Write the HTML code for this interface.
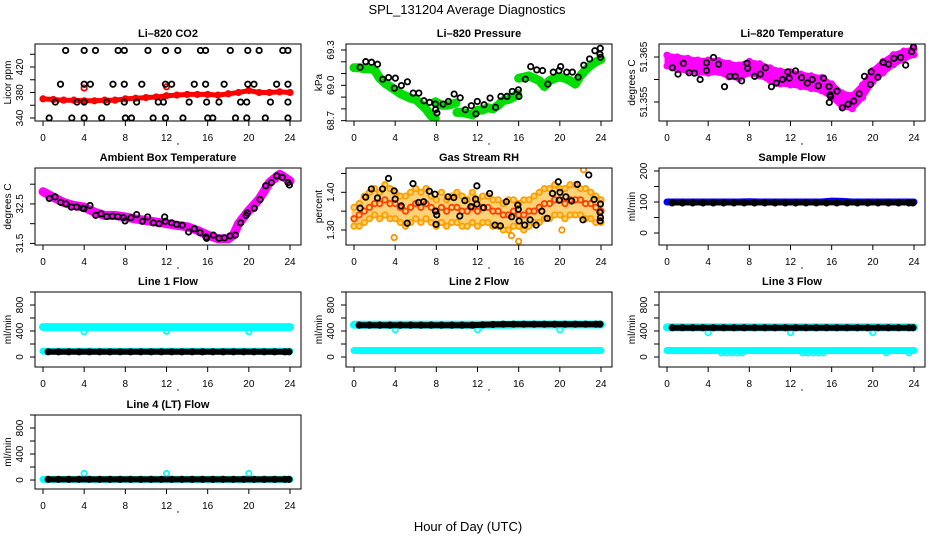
<!DOCTYPE html>
<html><head><meta charset="utf-8">
<style>
html,body{margin:0;padding:0;background:#fff;}
svg{display:block;font-family:"Liberation Sans",Arial,sans-serif;}
</style></head>
<body>
<svg id="chart" width="936" height="540" viewBox="0 0 936 540" xmlns="http://www.w3.org/2000/svg">
<rect x="0" y="0" width="936" height="540" fill="#fff"/>
<text x="467" y="14" text-anchor="middle" font-size="13">SPL_131204  Average Diagnostics</text>
<text x="468" y="531" text-anchor="middle" font-size="13">Hour of Day (UTC)</text>
</svg>
<script>
// ---------- data ----------
const xTicks = [0,4,8,12,16,20,24];
const hourly = [0,1,2,3,4,5,6,7,8,9,10,11,12,13,14,15,16,17,18,19,20,21,22,23,24];
const halfHours = [0.5,1.5,2.5,3.5,4.5,5.5,6.5,7.5,8.5,9.5,10.5,11.5,12.5,13.5,14.5,15.5,16.5,17.5,18.5,19.5,20.5,21.5,22.5,23.5,23.9];

// CO2
const co2Red = [370,369,368,368,367,367,368,368,370,371,372,373,375,376,377,377,377,376,378,380,383,380,380,381,380];
const co2RedOutHours = [4,12];
const co2RedOutValues = [387,389];
const co2TopHours = [2.2,4.0,5.1,7.3,7.9,10.2,11.9,13.1,15.3,15.8,18.2,19.9,21.0,23.3,23.8];
const co2TopValue = 446;
const co2HighHours = [1.7,4.0,4.6,6.8,7.9,9.6,11.9,12.5,14.7,15.8,17.6,19.9,20.5,22.7,23.8];
const co2HighValue = 393;
const co2MidHours = [1.2,3.3,4.0,6.2,7.9,9.1,11.2,11.7,14.2,15.9,17.1,19.2,19.8,22.1,23.8];
const co2MidValue = 365;
const co2LowHours = [0.6,2.8,4.0,5.7,8.0,8.6,10.7,11.9,13.6,16.0,16.5,18.7,19.8,21.6,23.8];
const co2LowValue = 340;

// Pressure
const presBandHours = [0,0.5,1,1.5,2,2.5,3,3.5,4,4.5,5,5.5,6,6.5,7,7.5,7.9,null,7.9,8.5,9,9.5,9.9,null,10,10.5,11,11.5,12,12.5,13,13.5,14,14.5,15,15.5,15.9,null,16,16.5,17,17.5,18,18.5,19,19.5,20,20.5,21,21.5,22,22.5,23,23.5,24];
const presBandValues = [69.15,69.15,69.14,69.14,69.13,69.06,69.02,68.99,68.96,68.93,68.91,68.89,68.88,68.84,68.80,68.74,68.72,null,68.86,68.83,68.83,68.84,68.85,null,68.77,68.77,68.76,68.75,68.79,68.79,68.81,68.80,68.83,68.87,68.88,68.90,68.93,null,69.06,69.07,69.08,69.06,69.04,68.99,69.04,69.06,69.07,69.06,69.04,69.01,69.08,69.13,69.17,69.20,69.22];
const presPtHours = [0.59,1.14,1.70,2.29,2.78,3.36,3.92,4.02,4.60,5.19,5.75,6.30,6.79,7.35,7.90,7.93,8.06,8.65,9.18,9.73,10.32,10.81,11.40,11.85,11.98,12.64,13.22,13.75,14.27,14.86,15.38,15.97,16.03,16.65,17.17,17.76,18.32,18.84,19.36,19.92,20.08,20.67,21.22,21.78,22.33,22.89,23.41,23.93,23.9,23.95];
const presPtValues = [69.154,69.201,69.196,69.179,69.052,69.066,68.976,69.061,68.998,69.030,68.934,68.934,68.869,68.855,68.841,68.793,68.765,68.841,68.863,68.926,68.894,68.793,68.827,68.757,68.863,68.835,68.892,68.813,68.906,68.906,68.948,68.962,68.906,69.052,69.159,69.131,69.125,69.010,69.112,69.125,69.159,69.112,69.112,69.069,69.171,69.224,69.294,69.314,69.264,69.238];

// Li-820 temperature
const tempHi = [51.3654,51.3650,51.3647,51.3643,51.3643,51.3642,51.3636,51.3632,51.3640,51.3635,51.3626,51.3619,51.3617,51.3612,51.3608,51.3604,51.3590,51.3570,51.3565,51.3588,51.3620,51.3640,51.3655,51.3663,51.3668];
const tempLo = [51.3630,51.3622,51.3619,51.3615,51.3614,51.3616,51.3606,51.3602,51.3614,51.3608,51.3598,51.3590,51.3588,51.3584,51.3580,51.3575,51.3560,51.3540,51.3535,51.3560,51.3595,51.3615,51.3633,51.3645,51.3655];
const tempPtHours = [0.52,1.07,1.59,2.15,2.67,3.22,3.84,3.84,4.52,5.01,5.59,6.11,6.63,7.25,7.77,7.84,8.52,9.07,9.56,10.15,10.63,11.22,11.74,11.87,12.49,13.07,13.63,14.11,14.70,15.22,15.74,15.84,15.9,15.77,16.52,17.04,17.59,18.15,18.67,19.19,19.77,19.84,20.49,21.00,21.53,22.05,22.70,23.19,23.77,23.95];
const tempPtValues = [51.3626,51.3612,51.3636,51.3615,51.3614,51.3600,51.3637,51.3620,51.3649,51.3634,51.3584,51.3607,51.3607,51.3597,51.3636,51.3625,51.3607,51.3612,51.3626,51.3584,51.3592,51.3600,51.3617,51.3603,51.3619,51.3604,51.3592,51.3600,51.3586,51.3603,51.3584,51.3566,51.3562,51.3549,51.3574,51.3537,51.3545,51.3552,51.3568,51.3607,51.3589,51.3617,51.3605,51.3638,51.3634,51.3647,51.3649,51.3632,51.3662,51.3672];

// Ambient box temperature
const ambHours = [0,1,2,3,4,5,6,7,8,9,10,11,12,13,14,15,16,17,18,18.5,19,19.5,20,21,22,23,24];
const ambBand = [32.81,32.67,32.54,32.46,32.42,32.29,32.21,32.21,32.17,32.12,32.08,32.04,32.00,31.96,31.92,31.83,31.71,31.62,31.62,31.71,32.00,32.17,32.33,32.62,33.04,33.25,33.08];
const ambPtHours = [0.61,1.17,1.72,2.23,2.75,3.27,3.86,3.98,4.57,5.12,5.64,6.19,6.74,7.26,7.81,7.97,8.55,9.10,9.65,10.17,10.72,11.27,11.82,11.89,12.50,12.99,13.54,14.15,14.70,15.26,15.90,15.84,16.55,17.10,17.62,18.17,18.69,19.21,19.73,19.85,20.53,21.09,21.64,22.19,22.71,23.25,23.81,23.94];
const ambPtValues = [32.64,32.68,32.54,32.50,32.42,32.42,32.39,32.38,32.46,32.21,32.25,32.18,32.19,32.18,32.15,32.07,32.15,32.23,32.06,32.17,32.02,32.00,32.17,32.06,32.02,31.98,31.96,31.79,31.87,31.77,31.63,31.66,31.71,31.63,31.64,31.69,31.71,32.02,32.21,32.27,32.39,32.61,32.96,33.04,33.21,33.17,33.04,32.98];

// Gas stream RH
const rhHours = [0,0.5,1,1.5,2,2.5,3,3.5,4,4.5,5,5.5,6,6.5,7,7.5,8,8.5,9,9.5,10,10.5,11,11.5,12,12.5,13,13.5,14,14.5,15,15.5,16,16.5,17,17.5,18,18.5,19,19.5,20,20.5,21,21.5,22,22.5,23,23.5,24];
const rhMid = [1.33,1.34,1.35,1.36,1.37,1.37,1.38,1.37,1.37,1.36,1.35,1.36,1.37,1.36,1.37,1.36,1.35,1.36,1.35,1.36,1.36,1.35,1.35,1.36,1.35,1.36,1.36,1.35,1.35,1.34,1.34,1.35,1.34,1.34,1.35,1.35,1.36,1.37,1.37,1.38,1.38,1.37,1.38,1.38,1.38,1.37,1.37,1.36,1.35];
const rhHigh = [1.36,1.37,1.39,1.40,1.41,1.40,1.42,1.41,1.40,1.39,1.39,1.40,1.41,1.40,1.41,1.39,1.38,1.40,1.38,1.39,1.40,1.39,1.38,1.40,1.38,1.39,1.39,1.38,1.38,1.37,1.38,1.38,1.37,1.38,1.38,1.39,1.40,1.41,1.41,1.42,1.41,1.41,1.42,1.42,1.41,1.41,1.40,1.39,1.38];
const rhLow = [1.31,1.31,1.32,1.33,1.34,1.33,1.34,1.33,1.33,1.32,1.31,1.32,1.33,1.32,1.33,1.32,1.31,1.32,1.31,1.32,1.32,1.31,1.31,1.32,1.31,1.32,1.32,1.31,1.31,1.30,1.30,1.31,1.31,1.30,1.31,1.32,1.32,1.33,1.33,1.34,1.34,1.33,1.34,1.34,1.34,1.33,1.33,1.32,1.32];
const rhOutHours = [3.9,15.3,16.0,20.2,22.3];
const rhOutValues = [1.28,1.285,1.27,1.30,1.46];
const rhPtHours = [0.59,1.14,1.69,2.28,2.77,3.35,3.90,4.00,4.59,5.17,5.73,6.28,6.77,7.32,7.87,7.91,8.04,7.97,9.14,9.70,10.28,10.77,11.36,11.94,11.81,11.94,12.59,13.18,13.70,14.22,14.80,15.32,15.91,15.97,16.04,16.59,17.11,17.70,18.25,18.77,19.29,19.85,20.01,19.94,20.59,21.15,21.70,22.25,22.81,23.33,23.95,23.9,23.95,23.92];
const rhPtValues = [1.358,1.387,1.409,1.385,1.409,1.437,1.404,1.382,1.364,1.318,1.423,1.373,1.375,1.403,1.395,1.350,1.340,1.315,1.388,1.386,1.337,1.378,1.362,1.417,1.382,1.369,1.359,1.397,1.313,1.311,1.375,1.335,1.366,1.355,1.324,1.313,1.327,1.313,1.350,1.331,1.397,1.428,1.400,1.379,1.388,1.377,1.421,1.327,1.446,1.381,1.369,1.347,1.333,1.324];

// Sample flow
const sampleBlue = [100,100,100,100,100,100,100,100,101,100,100,100,100,100,100,100,103,102,100,100,100,100,100,100,100];
const sampleBlack = [97,97,97,97,97,97,97,97,97,97,97,97,97,97,97,97,97,97,97,97,97,97,97,97,97];

// Line flows
const dipHours = [4,12,20];
const line1Cyan = [460,460,460,460,460,460,460,460,460,460,460,460,460,460,460,460,460,460,460,460,460,460,460,460,460];
const line1CyanDips = [390,395,390];
const line1CyanLow = [90,90,90,90,90,90,90,90,90,90,90,90,90,90,90,90,90,90,90,90,90,90,90,90,90];
const line1Black = [80,80,80,80,80,80,80,80,80,80,80,80,80,80,80,80,80,80,80,80,80,80,80,80,80];
const line2Cyan = [495,495,495,495,495,495,495,495,495,495,495,495,495,495,495,495,500,500,500,500,500,500,500,500,500];
const line2CyanDips = [420,420,420];
const line2CyanLow = [100,100,100,100,100,100,100,100,100,100,100,100,100,100,100,100,100,100,100,100,100,100,100,100,100];
const line2Black = [490,490,490,490,490,490,490,490,490,490,490,490,495,500,505,505,505,505,505,505,505,505,505,505,505];
const line3Cyan = [455,455,455,455,455,455,455,455,455,455,455,455,455,455,455,455,455,455,455,455,455,455,455,455,455];
const line3CyanDips = [375,375,375];
const line3CyanLow = [100,100,100,100,100,100,100,100,100,100,100,100,100,100,100,100,100,100,100,100,100,100,100,100,100];
const line3LowDipHours = [5.3,5.8,6.3,6.8,7.3,13.2,13.7,14.2,14.7,15.2,21.3,23.5];
const line3LowDips = [65,65,65,65,65,65,65,65,65,65,65,65];
const line3Black = [450,450,450,450,450,450,450,450,450,450,450,450,450,450,450,450,450,450,450,450,450,450,450,450,450];
const line4Cyan = [10,10,10,10,10,10,10,10,10,10,10,10,10,10,10,10,10,10,10,10,10,10,10,10,10];
const line4CyanSpikes = [100,100,100];
const line4Black = [10,10,10,10,10,10,10,10,10,10,10,10,10,10,10,10,10,10,10,10,10,10,10,10,10];

// ---------- drawing ----------
const NS = 'http://www.w3.org/2000/svg';
const svg = document.getElementById('chart');
function mk(tag, parent){ const e = document.createElementNS(NS, tag); parent.appendChild(e); return e; }

const colLeft = [35, 346, 659];
const rowTop = [44, 168, 292, 415];
const rowBot = [121, 245, 367, 489];
const PW = 266;

function panel(key, col, row, ylim, ticks, labels, title, ytitle){
  const L = colLeft[col], R = L + PW, T = rowTop[row], B = rowBot[row];
  const g = mk('g', svg);
  
  
  const x = h => L + 8 + h * (247/24);
  const y = v => B - (v - ylim[0]) / (ylim[1] - ylim[0]) * (B - T);
  const clipId = 'clip-' + key;
  const cp = mk('clipPath', g); cp.setAttribute('id', clipId);
  const cr = mk('rect', cp); cr.setAttribute('x', L); cr.setAttribute('y', T); cr.setAttribute('width', PW); cr.setAttribute('height', B - T);
  const plot = mk('g', g);
  plot.setAttribute('clip-path', 'url(#' + clipId + ')');
  
  
  const box = mk('rect', g);
  box.setAttribute('x', L); box.setAttribute('y', T); box.setAttribute('width', PW); box.setAttribute('height', B - T);
  box.setAttribute('fill', 'none'); box.setAttribute('stroke', '#000'); box.setAttribute('stroke-width', '1');
  
  
  const tt = mk('text', g);
  tt.setAttribute('x', (L + R) / 2); tt.setAttribute('y', T - 7); tt.setAttribute('text-anchor', 'middle');
  tt.setAttribute('font-size', '11'); tt.setAttribute('font-weight', 'bold');
  tt.textContent = title;
  
  
  const yt = mk('text', g);
  yt.setAttribute('transform', 'translate(' + (L - 24) + ',' + ((T + B) / 2) + ') rotate(-90)');
  yt.setAttribute('text-anchor', 'middle'); yt.setAttribute('font-size', '10');
  yt.textContent = ytitle;
  
  
  xTicks.forEach(h => {
    const tk = mk('line', g);
    tk.setAttribute('x1', x(h)); tk.setAttribute('x2', x(h)); tk.setAttribute('y1', B); tk.setAttribute('y2', B + 5); tk.setAttribute('stroke', '#000');
    
    
    const lb = mk('text', g);
    lb.setAttribute('x', x(h)); lb.setAttribute('y', B + 20); lb.setAttribute('text-anchor', 'middle'); lb.setAttribute('font-size', '10');
    lb.textContent = String(h);
    
    
  });
  const dot = mk('circle', g);
  dot.setAttribute('cx', (L + R) / 2 + 10); dot.setAttribute('cy', B + 23); dot.setAttribute('r', '0.7'); dot.setAttribute('fill', '#000');
  
  
  ticks.forEach((v, i) => {
    const tk = mk('line', g);
    tk.setAttribute('x1', L - 5); tk.setAttribute('x2', L); tk.setAttribute('y1', y(v)); tk.setAttribute('y2', y(v)); tk.setAttribute('stroke', '#000');
    
    
    if (labels[i] !== '') {
      const lb = mk('text', g);
      lb.setAttribute('transform', 'translate(' + (L - 12) + ',' + y(v) + ') rotate(-90)');
      lb.setAttribute('text-anchor', 'middle'); lb.setAttribute('font-size', '10');
      lb.textContent = labels[i];
      
      
    }
  });
  return {plot, x, y};
}

function points(p, hours, values, color, name, r, sw){
  hours.forEach((h, i) => {
    const v = Array.isArray(values) ? values[i] : values;
    const c = mk('circle', p.plot);
    c.setAttribute('cx', p.x(h)); c.setAttribute('cy', p.y(v)); c.setAttribute('r', r || 2.7);
    c.setAttribute('fill', 'none'); c.setAttribute('stroke', color); c.setAttribute('stroke-width', sw || 1.8);
    
    
  });
}
function band(p, hours, values, color, width, name){
  let d = '', start = true;
  hours.forEach((h, i) => {
    if (h === null || values[i] === null) { start = true; return; }
    d += (start ? 'M' : 'L') + p.x(h).toFixed(1) + ',' + p.y(values[i]).toFixed(1);
    start = false;
  });
  const pa = mk('path', p.plot);
  pa.setAttribute('d', d); pa.setAttribute('fill', 'none'); pa.setAttribute('stroke', color);
  pa.setAttribute('stroke-width', width); pa.setAttribute('stroke-linecap', 'round'); pa.setAttribute('stroke-linejoin', 'round');
  
  
}
function area(p, hours, lo, hi, color, name, opacity){
  let d = '';
  hours.forEach((h, i) => { d += (i ? 'L' : 'M') + p.x(h).toFixed(1) + ',' + p.y(hi[i]).toFixed(1); });
  for (let i = hours.length - 1; i >= 0; i--) d += 'L' + p.x(hours[i]).toFixed(1) + ',' + p.y(lo[i]).toFixed(1);
  d += 'Z';
  const pa = mk('path', p.plot);
  pa.setAttribute('d', d); pa.setAttribute('fill', color); pa.setAttribute('stroke', color);
  pa.setAttribute('stroke-width', '5'); pa.setAttribute('stroke-linejoin', 'round');
  pa.setAttribute('opacity', opacity || 1);
  
  
}

const flowTicks = [0,200,400,600,800,1000];
const flowLabels = ['0','','400','','800',''];

// Panel 1: CO2
const p1 = panel('co2', 0, 0, [335.3, 456.1], [340,360,380,400,420,440], ['340','','380','','420',''], 'Li\u2013820 CO2', 'Licor ppm');
band(p1, hourly, co2Red, '#ff0000', 5, 'co2-red-band');
points(p1, hourly, co2Red, '#ff0000', 'co2-red-point');
points(p1, co2RedOutHours, co2RedOutValues, '#ff0000', 'co2-red-outlier');
points(p1, co2TopHours, co2TopValue, '#000', 'co2-black-point');
points(p1, co2HighHours, co2HighValue, '#000', 'co2-black-point');
points(p1, co2MidHours, co2MidValue, '#000', 'co2-black-point');
points(p1, co2LowHours, co2LowValue, '#000', 'co2-black-point');

// Panel 2: Pressure
const p2 = panel('pressure', 1, 0, [68.697, 69.351], [68.7,68.8,68.9,69.0,69.1,69.2,69.3], ['68.7','','','69.0','','','69.3'], 'Li\u2013820 Pressure', 'kPa');
band(p2, presBandHours, presBandValues, '#00dd00', 9, 'pressure-green-band');
points(p2, presPtHours, presPtValues, '#000', 'pressure-black-point');

// Panel 3: Li-820 temperature
const p3 = panel('li820-temp', 2, 0, [51.35078, 51.36789], [51.355,51.360,51.365], ['51.355','','51.365'], 'Li\u2013820 Temperature', 'degrees C');
area(p3, hourly, tempLo, tempHi, '#ff00ff', 'li820-temp-magenta-band');
points(p3, hourly, tempHi, '#ff00ff', 'li820-temp-magenta-point');
points(p3, hourly, tempLo, '#ff00ff', 'li820-temp-magenta-point');
points(p3, tempPtHours, tempPtValues, '#000', 'li820-temp-black-point');

// Panel 4: Ambient box temperature
const p4 = panel('ambient-temp', 0, 1, [31.46, 33.41], [31.5,32.0,32.5,33.0], ['31.5','','32.5',''], 'Ambient Box Temperature', 'degrees C');
band(p4, ambHours, ambBand, '#ff00ff', 9, 'ambient-temp-magenta-band');
points(p4, ambPtHours, ambPtValues, '#000', 'ambient-temp-black-point');

// Panel 5: Gas stream RH
const p5 = panel('gas-rh', 1, 1, [1.2602, 1.4645], [1.30,1.35,1.40,1.45], ['1.30','','1.40',''], 'Gas Stream RH', 'percent');
area(p5, rhHours, rhLow, rhHigh, '#ffc040', 'gas-rh-orange-band', 0.7);
points(p5, rhHours, rhHigh, '#ffa000', 'gas-rh-orange-point');
points(p5, rhHours, rhMid, '#ff4000', 'gas-rh-orange-point');
points(p5, rhHours, rhLow, '#ffa000', 'gas-rh-orange-point');
points(p5, rhOutHours, rhOutValues, '#ff9000', 'gas-rh-orange-outlier');
points(p5, rhPtHours, rhPtValues, '#000', 'gas-rh-black-point');

// Panel 6: Sample flow
const p6 = panel('sample-flow', 2, 1, [-38.7, 209.7], [0,50,100,150,200], ['0','','100','','200'], 'Sample Flow', 'ml/min');
band(p6, hourly, sampleBlue, '#0000ff', 7, 'sample-flow-blue-band');
band(p6, halfHours, sampleBlack, '#000', 5, 'sample-flow-black-band');
points(p6, halfHours, sampleBlack, '#000', 'sample-flow-black-point');

// Panel 7: Line 1 flow
const p7 = panel('line1-flow', 0, 2, [-153.8, 1000], flowTicks, flowLabels, 'Line 1 Flow', 'ml/min');
band(p7, hourly, line1Cyan, '#00ffff', 8, 'line1-cyan-band');
points(p7, dipHours, line1CyanDips, '#00ffff', 'line1-cyan-dip');
band(p7, hourly, line1CyanLow, '#00ffff', 7, 'line1-cyan-low-band');
band(p7, halfHours, line1Black, '#000', 6, 'line1-black-band');
points(p7, halfHours, line1Black, '#000', 'line1-black-point');

// Panel 8: Line 2 flow
const p8 = panel('line2-flow', 1, 2, [-153.8, 1000], flowTicks, flowLabels, 'Line 2 Flow', 'ml/min');
band(p8, hourly, line2Cyan, '#00ffff', 8, 'line2-cyan-band');
points(p8, dipHours, line2CyanDips, '#00ffff', 'line2-cyan-dip');
band(p8, hourly, line2CyanLow, '#00ffff', 7, 'line2-cyan-low-band');
band(p8, halfHours, line2Black, '#000', 6, 'line2-black-band');
points(p8, halfHours, line2Black, '#000', 'line2-black-point');

// Panel 9: Line 3 flow
const p9 = panel('line3-flow', 2, 2, [-153.8, 1000], flowTicks, flowLabels, 'Line 3 Flow', 'ml/min');
band(p9, hourly, line3Cyan, '#00ffff', 8, 'line3-cyan-band');
points(p9, dipHours, line3CyanDips, '#00ffff', 'line3-cyan-dip');
band(p9, hourly, line3CyanLow, '#00ffff', 7, 'line3-cyan-low-band');
points(p9, line3LowDipHours, line3LowDips, '#00ffff', 'line3-cyan-low-dip');
band(p9, halfHours, line3Black, '#000', 6, 'line3-black-band');
points(p9, halfHours, line3Black, '#000', 'line3-black-point');

// Panel 10: Line 4 flow
const p10 = panel('line4-flow', 0, 3, [-138, 1000], flowTicks, flowLabels, 'Line 4 (LT) Flow', 'ml/min');
band(p10, hourly, line4Cyan, '#00ffff', 7, 'line4-cyan-band');
points(p10, dipHours, line4CyanSpikes, '#00ffff', 'line4-cyan-spike');
band(p10, halfHours, line4Black, '#000', 6, 'line4-black-band');
points(p10, halfHours, line4Black, '#000', 'line4-black-point');
</script>
</body></html>
